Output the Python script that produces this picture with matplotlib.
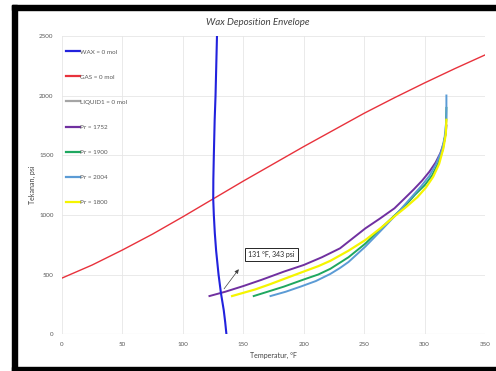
import matplotlib
matplotlib.use("Agg")
import matplotlib.pyplot as plt
from matplotlib.patches import Rectangle

# data
wax_p = [0, 100, 200, 343, 500, 700, 850, 1000, 1134, 1300, 1500, 1800, 2000, 2250, 2500]
wax_t = [136, 135, 133.8, 131.5, 129.5, 127.5, 126.4, 125.6, 125.1, 125.2, 125.6, 126.3, 127, 127.6, 128.2]

gas_t = [0, 25, 50, 75, 100, 125, 150, 175, 200, 225, 250, 275, 300, 325, 350]
gas_p = [470, 580, 706, 840, 985, 1135, 1285, 1430, 1575, 1715, 1855, 1985, 2110, 2230, 2345]

liquid_t = []
liquid_p = []

pr1752_t = [122, 135, 150, 165, 183.5, 200, 215, 230, 240, 251, 263, 275, 283, 291, 298, 304, 309, 313, 316, 317.5, 318]
pr1752_p = [319, 355, 403, 455, 524, 580, 645, 720, 800, 888, 970, 1056, 1135, 1215, 1290, 1365, 1440, 1520, 1610, 1690, 1752]

pr1900_t = [158.6, 170, 183.5, 200, 212, 222, 237, 251, 263, 277, 285, 292, 300, 306, 311, 315, 317.5, 318]
pr1900_p = [319, 355, 398, 458, 500, 548, 645, 760, 880, 1014, 1090, 1170, 1250, 1330, 1430, 1550, 1700, 1900]

pr2004_t = [172.5, 185, 197.3, 210, 222, 230, 237, 251, 263, 275, 283, 290, 297, 304, 309.5, 314, 316.5, 318, 318]
pr2004_p = [319, 355, 398, 445, 505, 555, 605, 735, 860, 988, 1080, 1160, 1240, 1330, 1430, 1540, 1650, 1800, 2004]

pr1800_t = [140.7, 150, 160, 172, 183.5, 200, 212, 222, 237, 251, 263, 275, 285, 294, 301, 307, 312, 315.5, 317.5, 318]
pr1800_p = [319, 346, 375, 418, 462, 525, 570, 615, 700, 790, 885, 988, 1070, 1150, 1230, 1320, 1430, 1560, 1680, 1800]

x_ticks = [0, 50, 100, 150, 200, 250, 300, 350]
y_ticks = [0, 500, 1000, 1500, 2000, 2500]

plt.rcParams['font.family'] = ['Lato', 'DejaVu Sans']

fig = plt.figure(figsize=(4.96, 3.71), dpi=100)
ax = fig.add_axes([0.125, 0.0997, 0.853, 0.802])

ax.plot(wax_t, wax_p, color='#2222dd', lw=1.5, label='WAX = 0 mol', zorder=4)
ax.plot(gas_t, gas_p, color='#e8323c', lw=1.0, label='GAS = 0 mol')
ax.plot(liquid_t, liquid_p, color='#a5a5a5', lw=1.0, label='LIQUID1 = 0 mol')
ax.plot(pr1752_t, pr1752_p, color='#7030a0', lw=1.4, label='Pr = 1752')
ax.plot(pr1900_t, pr1900_p, color='#1fa860', lw=1.4, label='Pr = 1900')
ax.plot(pr2004_t, pr2004_p, color='#5b9bd5', lw=1.4, label='Pr = 2004')
ax.plot(pr1800_t, pr1800_p, color='#f5f500', lw=1.6, label='Pr = 1800')

ax.set_xlim(0, 350)
ax.set_ylim(0, 2500)
ax.set_xticks(x_ticks)
ax.set_yticks(y_ticks)
ax.tick_params(length=0, labelsize=4.5, labelcolor='#595959', pad=6)
ax.grid(True, color='#e6e6e6', lw=0.6)
ax.set_axisbelow(True)
for s in ax.spines.values():
    s.set_visible(False)
ax.axhline(0, color='#d9d9d9', lw=0.8, zorder=1)

ax.set_xlabel('Temperatur, °F', fontsize=5, color='#404040', labelpad=3)
ax.set_ylabel('Tekanan, psi', fontsize=5, color='#404040', labelpad=2)
fig.text(0.519, 0.94, 'Wax Deposition Envelope', ha='center', va='center',
         fontsize=7, style='italic', color='#404040')

leg = ax.legend(loc='upper left', bbox_to_anchor=(0.0, 0.97), frameon=False,
                fontsize=4.5, labelspacing=3.15, handlelength=2.2, handletextpad=0.1,
                borderaxespad=0.2, labelcolor='#595959')
for h in leg.get_lines():
    h.set_linewidth(1.6)

# annotation at the wax / Pr=1752 crossing
ax.annotate('', xy=(147.6, 563), xytext=(132.7, 361),
            arrowprops=dict(arrowstyle='-|>', color='#404040', lw=0.5, mutation_scale=6))
ax.text(173.3, 668, '131 °F, 343 psi', ha='center', va='center', fontsize=5,
        color='#262626', bbox=dict(boxstyle='square,pad=0.45', fc='white', ec='#262626', lw=0.7))

# black frame around the chart
fig.patches.append(Rectangle((12 / 496, 0), 5 / 496, 1 - 5 / 371, transform=fig.transFigure,
                             color='black', zorder=0))
fig.patches.append(Rectangle((12 / 496, 1 - 10 / 371), 1, 5 / 371, transform=fig.transFigure,
                             color='black', zorder=0))
fig.patches.append(Rectangle((12 / 496, 0), 1, 4 / 371, transform=fig.transFigure,
                             color='black', zorder=0))

fig.savefig('out.png', dpi=100)
